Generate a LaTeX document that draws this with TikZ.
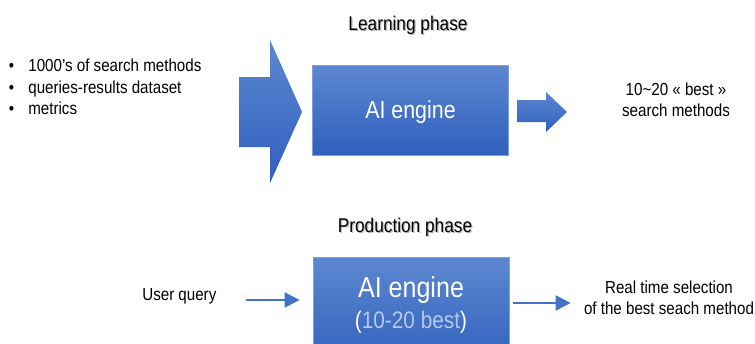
\documentclass[tikz,border=0pt]{standalone}
\usepackage{fontspec}
\setmainfont{Liberation Sans}[FakeStretch=0.87]
\usetikzlibrary{arrows.meta, positioning, calc}
\definecolor{cBlueTop}{RGB}{93,135,208}
\definecolor{cBlueBot}{RGB}{48,96,190}
\definecolor{cEdge}{RGB}{125,160,218}
\definecolor{cArrow}{RGB}{68,114,196}
\definecolor{cSoft}{RGB}{182,200,232}
\definecolor{cShadow}{RGB}{110,110,110}
\tikzset{
  %% plain text
  txt/.style={inner sep=0pt, font=\fontsize{9.9}{12}\selectfont, text=black},
  title/.style={inner sep=0pt, font=\fontsize{11.3}{13}\selectfont, text=black},
  titleshadow/.style={title, text=cShadow, opacity=0.45},
  %% engine boxes
  engine/.style={rectangle, draw=cEdge, line width=0.4pt,
                 top color=cBlueTop, bottom color=cBlueBot,
                 minimum width=3.92cm, text=white, inner sep=0pt},
  %% block arrows
  blockarrow/.style={top color=cBlueTop, bottom color=cBlueBot},
  %% thin flow arrows
  flow/.style={draw=cArrow, line width=1.1pt, -{Triangle[length=0.3cm, width=0.3cm]}},
}

\begin{document}
\begin{tikzpicture}

\useasboundingbox (0,0) rectangle (15.1,-6.86);
\clip (0,0) rectangle (15.1,-6.86);

%% =============================================================
%%  LEARNING PHASE  (top)
%% =============================================================

%% -- title --
\node[titleshadow, anchor=base] (learnShadow) at (8.185,-0.63) {Learning phase};
\node[title, anchor=base] (learnTitle) at (8.16,-0.60) {Learning phase};

%% -- inputs --
\node[txt, anchor=base west] (in1) at (0.17,-1.42) {\makebox[0.39cm][l]{\textbullet}1000’s of search methods};
\node[txt, anchor=base west] (in2) at (0.17,-1.86) {\makebox[0.39cm][l]{\textbullet}queries-results dataset};
\node[txt, anchor=base west] (in3) at (0.17,-2.28) {\makebox[0.39cm][l]{\textbullet}metrics};

%% -- big input arrow --
\shade[blockarrow] (4.78,-1.54) -- (5.40,-1.54) -- (5.40,-0.80) -- (6.04,-2.24)
  -- (5.40,-3.66) -- (5.40,-2.94) -- (4.78,-2.94) -- cycle;

%% -- engine --
\node[engine, minimum height=1.80cm, text depth=0pt,
      font=\fontsize{14}{16}\selectfont] (learnEngine) at (8.21,-2.20) {AI engine};

%% -- output arrow --
\shade[blockarrow] (10.34,-2.00) -- (10.92,-2.00) -- (10.92,-1.84) -- (11.34,-2.24)
  -- (10.92,-2.64) -- (10.92,-2.44) -- (10.34,-2.44) -- cycle;

%% -- output --
\node[txt, align=center] (bestOut) at (13.52,-2.00) {10\char"7E 20 « best »\\search methods};

%% =============================================================
%%  PRODUCTION PHASE  (bottom)
%% =============================================================

%% -- title --
\node[titleshadow, anchor=base] (prodShadow) at (8.125,-4.67) {Production phase};
\node[title, anchor=base] (prodTitle) at (8.10,-4.64) {Production phase};

%% -- query in --
\node[txt, anchor=base west] (query) at (2.84,-6.00) {User query};

%% -- engine --
\node[engine, anchor=north, minimum height=2.2cm] (prodEngine) at (8.22,-5.14) {};
\node[inner sep=0pt, anchor=base, text=white, font=\fontsize{16.4}{18}\selectfont]
  (prodName) at (8.22,-5.94) {AI engine};
\node[inner sep=0pt, anchor=base, text=white, font=\fontsize{13.6}{16}\selectfont]
  (prodCount) at (8.22,-6.56) {(\textcolor{cSoft}{10-20 best})};

%% -- selection out --
\node[txt, align=center] (selOut) at (13.38,-5.96) {Real time selection\\of the best seach method};

%% -- flow arrows --
\draw[flow] ($(query.base east)+(0.58,0)$) -- ($(prodEngine.west |- query.base)+(-0.26,0)$);
\draw[flow] ($(prodEngine.east |- selOut.west)+(0.08,-0.1)$) -- ($(selOut.west)+(-0.26,-0.1)$);

\end{tikzpicture}
\end{document}
